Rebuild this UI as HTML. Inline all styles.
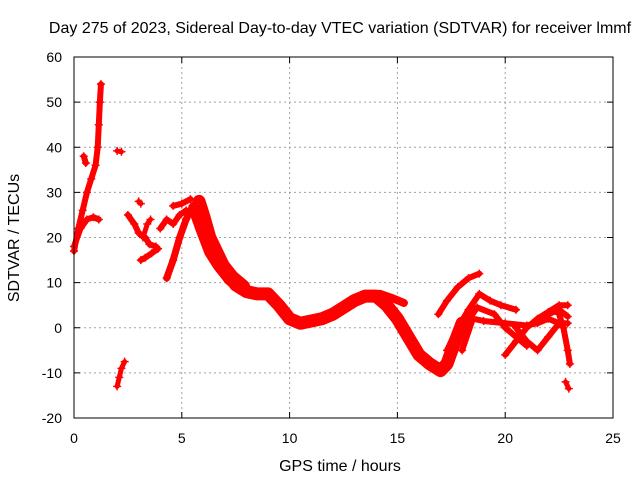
<!DOCTYPE html>
<html><head><meta charset="utf-8"><style>
body{margin:0;background:#fff;}
svg{display:block;font-family:"Liberation Sans",sans-serif;}
</style></head><body>
<svg id="chart" width="640" height="480">
<text x="340" y="33" font-size="16" text-anchor="middle">Day 275 of 2023, Sidereal Day-to-day VTEC variation (SDTVAR) for receiver lmmf</text>
<text x="340" y="471" font-size="16" text-anchor="middle">GPS time / hours</text>
<text transform="translate(19,238) rotate(-90)" font-size="16" text-anchor="middle">SDTVAR / TECUs</text>
<g id="grid"></g><g id="ticks"></g><g id="marks"></g>
<rect x="74" y="57" width="539" height="361" fill="none" stroke="#000" stroke-width="1"/>
</svg>
<script>
const xTicks=[0,5,10,15,20,25];
const yTicks=[-20,-10,0,10,20,30,40,50,60];
const tracks=[
[[0,17],[0.2,22],[0.4,26],[0.6,30],[0.8,33],[1.0,36],[1.1,40],[1.15,45],[1.2,50],[1.25,54]],
[[0,18],[0.3,22],[0.6,24],[0.9,24.5],[1.15,24]],
[[0.45,38],[0.55,36.5]],
[[2.0,39.2],[2.2,39]],
[[2.0,-13],[2.1,-11],[2.2,-9],[2.35,-7.5]],
[[2.5,25],[2.8,23],[3.0,21],[3.3,20],[3.5,18.5],[3.8,18]],
[[3.2,20],[3.4,23],[3.55,24]],
[[3.1,15],[3.3,15.5],[3.6,16.5],[3.9,17.5]],
[[3.0,28],[3.1,27.5]],
[[4.3,11],[4.6,15],[4.9,20],[5.2,24],[5.5,27],[5.8,28]],
[[4.0,22],[4.3,24],[4.6,23],[4.9,25],[5.2,26]],
[[4.6,27],[5.0,27.5],[5.4,28.5]],
[[5.8,28],[6.0,25],[6.3,20],[6.6,17],[7.0,13],[7.5,9.5],[8,8],[8.5,7.5],[9,7.5],[9.5,5],[10,2],[10.5,1],[11,1.5],[11.5,2],[12,3],[12.5,4.5],[13,6],[13.5,7],[14,7],[14.5,5],[15,2],[15.5,-2],[16,-6],[16.5,-8],[17,-9.5],[17.3,-8],[17.6,-4],[18,1]],
[[5.7,26],[6.0,22],[6.4,17],[6.8,14],[7.3,11],[7.8,9]],
[[13.5,7.5],[14.2,7.5],[14.8,6.5],[15.3,5.5]],
[[16.9,3],[17.3,6],[17.8,9],[18.3,11],[18.8,12]],
[[17.3,-5],[17.8,0],[18.3,4],[18.8,7.5],[19.3,6],[19.8,5],[20.5,4]],
[[17.7,-3],[18.2,1],[18.7,4.5],[19.5,3],[20.0,0],[20.5,-2],[21,-4]],
[[18,-5],[18.5,2],[19,1.5],[20,1],[21,0.5],[21.5,1],[22,2],[22.5,1]],
[[20,-6],[20.5,-3],[21,0],[21.5,2],[22,3.5],[22.5,5],[22.9,5]],
[[20.5,0],[21,-3],[21.5,-5],[22,-2],[22.5,1],[22.9,1]],
[[22.5,3],[22.7,0],[22.9,-5],[23,-8]],
[[22.8,-12],[22.95,-13.5]],
[[22.0,3],[22.5,4],[22.9,2.5]]
];
const widths=[6,6,6,5,5,6,5,6,5,7,6,6,13,16,8,6,6,6,6,6,6,6,5,6];
const X=h=>74+h*21.56, Y=v=>327.75-v*4.5125;
const NS="http://www.w3.org/2000/svg";
const grid=document.getElementById('grid'),ticks=document.getElementById('ticks'),marks=document.getElementById('marks');
function mk(t,a,p){const e=document.createElementNS(NS,t);for(const k in a)e.setAttribute(k,a[k]);p.appendChild(e);return e;}
xTicks.forEach(t=>{const x=X(t);
 if(t>0&&t<25){const g=mk('line',{x1:x,x2:x,y1:57,y2:418,stroke:'#a0a0a0','stroke-dasharray':'2,3'},grid);
 
 }
 mk('line',{x1:x,x2:x,y1:418,y2:412,stroke:'#000'},ticks);mk('line',{x1:x,x2:x,y1:57,y2:63,stroke:'#000'},ticks);
 const l=mk('text',{x:x,y:443,'font-size':14,'text-anchor':'middle'},ticks);l.textContent=t;
 
 });
yTicks.forEach(t=>{const y=Y(t);
 if(t>-20&&t<60){const g=mk('line',{x1:74,x2:613,y1:y,y2:y,stroke:'#a0a0a0','stroke-dasharray':'2,3'},grid);
 
 }
 mk('line',{x1:74,x2:80,y1:y,y2:y,stroke:'#000'},ticks);mk('line',{x1:613,x2:607,y1:y,y2:y,stroke:'#000'},ticks);
 const l=mk('text',{x:62,y:y+5,'font-size':14,'text-anchor':'end'},ticks);l.textContent=t;
 
 });
tracks.forEach((tr,i)=>{
 const pl=mk('polyline',{points:tr.map(p=>X(p[0])+','+Y(p[1])).join(' '),fill:'none',stroke:'#f00','stroke-width':widths[i]||5,'stroke-linejoin':'round','stroke-linecap':'round'},marks);
 
 
 tr.forEach(p=>{const x=X(p[0]),y=Y(p[1]);
  const m=mk('path',{d:`M${x-4},${y}H${x+4}M${x},${y-4}V${y+4}`,stroke:'#f00','stroke-width':1.5},marks);
  
  });
});
</script>
</body></html>
